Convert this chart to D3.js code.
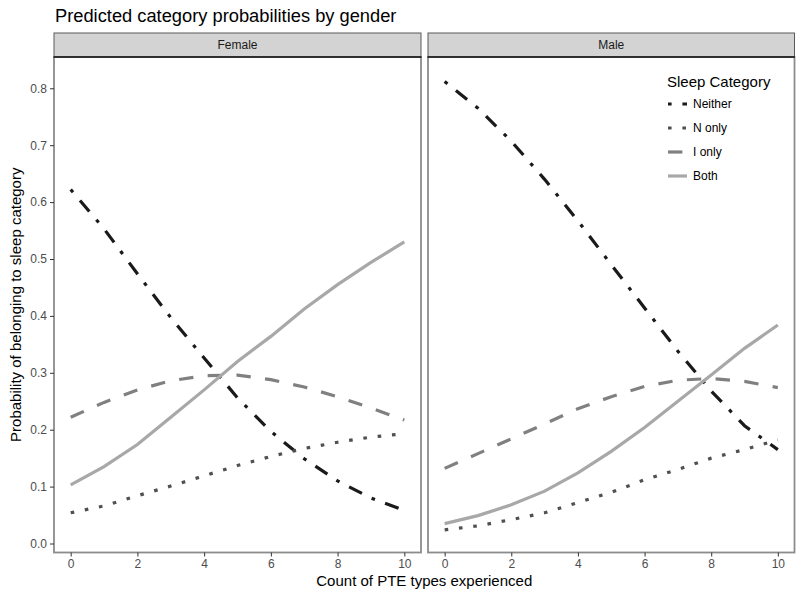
<!DOCTYPE html>
<html><head><meta charset="utf-8">
<script src="https://cdn.jsdelivr.net/npm/d3@7"></script>
<style>body{margin:0;background:#fff;} text{font-family:"Liberation Sans",Arial,sans-serif;}</style>
</head><body>
<svg id="chart" width="800" height="599"></svg>
<script>
const xValues = [0,1,2,3,4,5,6,7,8,9,10];
const panels = ["Female","Male"];
const categories = ["Neither","N only","I only","Both"];
const femaleNeither = [0.622,0.553,0.474,0.397,0.326,0.256,0.197,0.149,0.110,0.080,0.058];
const femaleNonly   = [0.054,0.066,0.084,0.101,0.119,0.137,0.153,0.167,0.178,0.187,0.193];
const femaleIonly   = [0.222,0.248,0.270,0.286,0.295,0.296,0.288,0.275,0.258,0.238,0.217];
const femaleBoth    = [0.103,0.135,0.174,0.222,0.270,0.320,0.364,0.412,0.455,0.494,0.530];
const maleNeither   = [0.812,0.765,0.707,0.640,0.567,0.490,0.414,0.338,0.268,0.207,0.165];
const maleNonly     = [0.024,0.031,0.042,0.054,0.072,0.090,0.112,0.130,0.150,0.165,0.182];
const maleIonly     = [0.132,0.158,0.184,0.210,0.237,0.258,0.276,0.287,0.290,0.285,0.274];
const maleBoth      = [0.035,0.049,0.068,0.092,0.124,0.162,0.204,0.250,0.296,0.343,0.384];
const yTicks = [0.0,0.1,0.2,0.3,0.4,0.5,0.6,0.7,0.8];
const xTicks = [0,2,4,6,8,10];

const seriesByPanel = {
  Female: [femaleNeither, femaleNonly, femaleIonly, femaleBoth],
  Male:   [maleNeither, maleNonly, maleIonly, maleBoth]
};
const colors = {"Neither":"#1a1a1a","N only":"#505050","I only":"#808080","Both":"#a8a8a8"};
const u = 3.6;
const dashes = {"Neither":[u,3*u,4*u,3*u].join(","),"N only":[u,3*u].join(","),"I only":[4*u,4*u].join(","),"Both":null};
const lw = 3.2;

const svg = d3.select("#chart");
const panelTop = 57, panelBottom = 552.5, stripTop = 33;
const panelX = {Female:[54,421], Male:[428,794.5]};

const y = d3.scaleLinear().domain([-0.0158,0.855]).range([panelBottom,panelTop]);

svg.append("text").attr("x",55).attr("y",22).attr("font-size",18.3).attr("fill","#000")
  .text("Predicted category probabilities by gender");

panels.forEach((p,pi)=>{
  const [x0,x1] = panelX[p];
  const x = d3.scaleLinear().domain([-0.5,10.5]).range([x0,x1]);
  const g = svg.append("g");
  g.append("rect").attr("x",x0).attr("y",stripTop).attr("width",x1-x0).attr("height",panelTop-stripTop)
    .attr("fill","#d3d3d3").attr("stroke","#5a5a5a").attr("stroke-width",1);
  g.append("text").attr("x",(x0+x1)/2).attr("y",(stripTop+panelTop)/2+4.2).attr("text-anchor","middle")
    .attr("font-size",12).attr("fill","#1a1a1a").text(p);
  const line = d3.line().x((d,i)=>x(xValues[i])).y(d=>y(d));
  seriesByPanel[p].forEach((vals,ci)=>{
    const c = categories[ci];
    g.append("path").attr("d",line(vals)).attr("fill","none").attr("stroke",colors[c])
      .attr("stroke-width",lw).attr("stroke-dasharray",dashes[c]).attr("stroke-linecap","butt");
  });
  g.append("rect").attr("x",x0).attr("y",panelTop).attr("width",x1-x0).attr("height",panelBottom-panelTop)
    .attr("fill","none").attr("stroke","#8c8c8c").attr("stroke-width",1.8);
  g.append("line").attr("x1",x0-0.5).attr("x2",x1+0.5).attr("y1",panelTop).attr("y2",panelTop)
    .attr("stroke","#111").attr("stroke-width",1.6);
  const xa = g.append("g").attr("transform",`translate(0,${panelBottom})`)
    .call(d3.axisBottom(x).tickValues(xTicks).tickSize(4).tickPadding(3).tickFormat(d3.format("d")));
  xa.select(".domain").remove();
  xa.selectAll("line").attr("stroke","#333").attr("stroke-width",1);
  xa.selectAll("text").attr("font-size",12).attr("fill","#4d4d4d").attr("font-family","Liberation Sans, Arial, sans-serif");
  if(pi===0){
    const ya = g.append("g").attr("transform",`translate(${x0},0)`)
      .call(d3.axisLeft(y).tickValues(yTicks).tickSize(4).tickPadding(3).tickFormat(d3.format(".1f")));
    ya.select(".domain").remove();
    ya.selectAll("line").attr("stroke","#333").attr("stroke-width",1);
    ya.selectAll("text").attr("font-size",12).attr("fill","#4d4d4d").attr("font-family","Liberation Sans, Arial, sans-serif");
  }
});

svg.append("text").attr("x",(54+794.5)/2).attr("y",586).attr("text-anchor","middle")
  .attr("font-size",15).attr("fill","#000").text("Count of PTE types experienced");
svg.append("text").attr("transform",`translate(21,${(panelTop+panelBottom)/2}) rotate(-90)`)
  .attr("text-anchor","middle").attr("font-size",15).attr("fill","#000")
  .text("Probability of belonging to sleep category");

const lg = svg.append("g");
lg.append("text").attr("x",667).attr("y",87).attr("font-size",15).attr("fill","#000").text("Sleep Category");
categories.forEach((c,i)=>{
  const yy = 104 + i*24;
  lg.append("line").attr("x1",668).attr("x2",687).attr("y1",yy).attr("y2",yy)
    .attr("stroke",colors[c]).attr("stroke-width",lw).attr("stroke-dasharray",dashes[c]).attr("stroke-linecap","butt");
  lg.append("text").attr("x",693).attr("y",yy+4).attr("font-size",12).attr("fill","#000").text(c);
});
</script>
</body></html>
